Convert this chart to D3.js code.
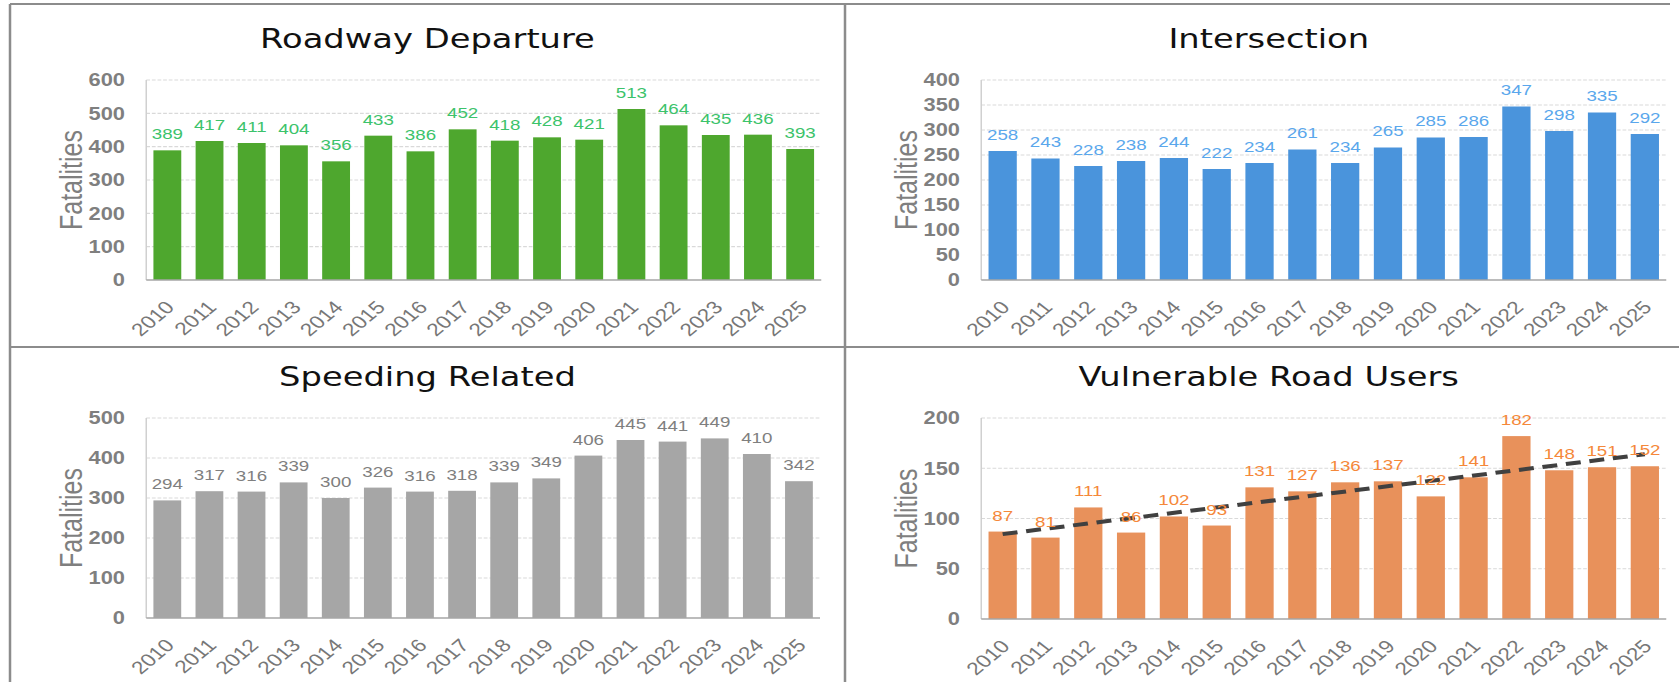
<!DOCTYPE html>
<html lang="en">
<head>
    <meta charset="UTF-8">
    <title>Fatalities by emphasis area</title>
    <script src="https://d3js.org/d3.v7.min.js"></script>
    <style>
        body { margin: 0; background: #fff; }
        .tick-label { font-family: "Liberation Sans", Arial, sans-serif; font-weight: bold; font-size: 17.5px; fill: #7f7f7f; }
        .year { font-family: "Liberation Sans", Arial, sans-serif; font-size: 18px; fill: #777; }
        .value { font-family: "Liberation Sans", Arial, sans-serif; font-size: 15px; }
        .ytitle { font-family: "Liberation Sans", Arial, sans-serif; font-size: 25px; fill: #7f7f7f; }
        .title { font-family: "DejaVu Sans", sans-serif; font-size: 27px; fill: #111; }
    </style>
</head>
<body>
<div id="fig"></div>
<script>
    let years = ["2010", "2011", "2012", "2013", "2014", "2015", "2016", "2017",
                 "2018", "2019", "2020", "2021", "2022", "2023", "2024", "2025"]
    let roadway = [389, 417, 411, 404, 356, 433, 386, 452, 418, 428, 421, 513, 464, 435, 436, 393]
    let intersection = [258, 243, 228, 238, 244, 222, 234, 261, 234, 265, 285, 286, 347, 298, 335, 292]
    let speeding = [294, 317, 316, 339, 300, 326, 316, 318, 339, 349, 406, 445, 441, 449, 410, 342]
    let vru = [87, 81, 111, 86, 102, 93, 131, 127, 136, 137, 122, 141, 182, 148, 151, 152]

    let roadwayTicks = [0, 100, 200, 300, 400, 500, 600]
    let intersectionTicks = [0, 50, 100, 150, 200, 250, 300, 350, 400]
    let speedingTicks = [0, 100, 200, 300, 400, 500]
    let vruTicks = [0, 50, 100, 150, 200]

    // the source picture is stretched sideways, so draw in a narrower box and stretch it
    let sx = 1.25
    let W = 1679, H = 682
    let svg = d3.select("#fig").append("svg")
        .attr("width", W).attr("height", H)
        .attr("viewBox", `0 0 ${W / sx} ${H}`)
        .attr("preserveAspectRatio", "none")

    // panel frame
    let frame = svg.append("g").attr("stroke", "#8c8c8c").attr("stroke-width", 2)
    frame.append("line").attr("x1", 8).attr("x2", 1336).attr("y1", 4).attr("y2", 4)
    frame.append("line").attr("x1", 8).attr("x2", 8).attr("y1", 4).attr("y2", H)
    frame.append("line").attr("x1", 676).attr("x2", 676).attr("y1", 4).attr("y2", H)
    frame.append("line").attr("x1", 8).attr("x2", W / sx).attr("y1", 347).attr("y2", 347)

    function panel(p) {
        let g = svg.append("g")
        let x = d3.scaleBand().domain(years).range([p.x0, p.x1])
            .paddingInner(0.34).paddingOuter(0.17)
        let y = d3.scaleLinear().domain([0, d3.max(p.ticks)]).range([p.y1, p.y0])

        // gridlines
        g.selectAll(".grid").data(p.ticks.slice(1)).enter().append("line")
            .attr("x1", p.x0).attr("x2", p.x1)
            .attr("y1", d => y(d)).attr("y2", d => y(d))
            .attr("stroke", "#d9d9d9").attr("stroke-width", 1.2)
            .attr("stroke-dasharray", "3,1.5")

        // y axis line
        g.append("line").attr("x1", p.x0).attr("x2", p.x0)
            .attr("y1", y(d3.max(p.ticks))).attr("y2", p.y1)
            .attr("stroke", "#d0d0d0").attr("stroke-width", 1.2)

        g.selectAll(".tick-label").data(p.ticks).enter().append("text")
            .attr("class", "tick-label")
            .attr("x", p.x0 - 17).attr("y", d => y(d))
            .attr("dy", "0.36em").attr("text-anchor", "end")
            .text(d => d)

        g.selectAll(".bar").data(p.values).enter().append("rect")
            .attr("x", (d, i) => x(years[i])).attr("width", x.bandwidth())
            .attr("y", d => y(d)).attr("height", d => p.y1 - y(d))
            .attr("fill", p.color)

        // x axis line
        g.append("line").attr("x1", p.x0).attr("x2", p.x1)
            .attr("y1", p.y1).attr("y2", p.y1)
            .attr("stroke", "#a6a6a6").attr("stroke-width", 1.5)

        if (p.trend) {
            let xs = d3.range(p.values.length)
            let mx = d3.mean(xs), my = d3.mean(p.values)
            let slope = d3.sum(xs, i => (i - mx) * (p.values[i] - my)) / d3.sum(xs, i => (i - mx) * (i - mx))
            let fit = i => my + slope * (i - mx)
            let ends = [0, p.values.length - 1]
            g.append("path")
                .attr("d", d3.line()
                    .x(i => x(years[i]) + x.bandwidth() / 2)
                    .y(i => y(fit(i)))(ends))
                .attr("fill", "none").attr("stroke", "#404040")
                .attr("stroke-width", 4).attr("stroke-dasharray", "12,7")
        }

        g.selectAll(".value").data(p.values).enter().append("text")
            .attr("class", "value")
            .attr("x", (d, i) => x(years[i]) + x.bandwidth() / 2)
            .attr("y", d => y(d) - 11)
            .attr("text-anchor", "middle")
            .attr("fill", p.labelColor)
            .text(d => d)

        g.selectAll(".year").data(years).enter().append("text")
            .attr("class", "year")
            .attr("transform", d => `translate(${x(d) + x.bandwidth() / 2 + 2}, ${p.y1 + 24}) rotate(-46)`)
            .attr("text-anchor", "end").attr("dy", "0.35em")
            .text(d => d)

        g.append("text").attr("class", "ytitle")
            .attr("transform", `translate(${p.x0 - 60}, ${(p.y0 + p.y1) / 2}) rotate(-90)`)
            .attr("text-anchor", "middle").attr("dy", "0.35em")
            .text("Fatalities")

        g.append("text").attr("class", "title")
            .attr("x", p.tx).attr("y", p.ty)
            .attr("text-anchor", "middle")
            .text(p.title)
    }

    panel({title: "Roadway Departure", values: roadway, ticks: roadwayTicks,
        color: "#4ea72e", labelColor: "#3cc36b",
        x0: 117, x1: 657, y0: 80, y1: 280, tx: 342, ty: 48})
    panel({title: "Intersection", values: intersection, ticks: intersectionTicks,
        color: "#4a94dc", labelColor: "#5aa7ec",
        x0: 785, x1: 1333, y0: 80, y1: 280, tx: 1015, ty: 48})
    panel({title: "Speeding Related", values: speeding, ticks: speedingTicks,
        color: "#a6a6a6", labelColor: "#7f7f7f",
        x0: 117, x1: 656, y0: 418, y1: 618, tx: 342, ty: 386})
    panel({title: "Vulnerable Road Users", values: vru, ticks: vruTicks,
        color: "#e8915b", labelColor: "#f5883a", trend: true,
        x0: 785, x1: 1333, y0: 418, y1: 619, tx: 1015, ty: 386})
</script>
</body>
</html>
